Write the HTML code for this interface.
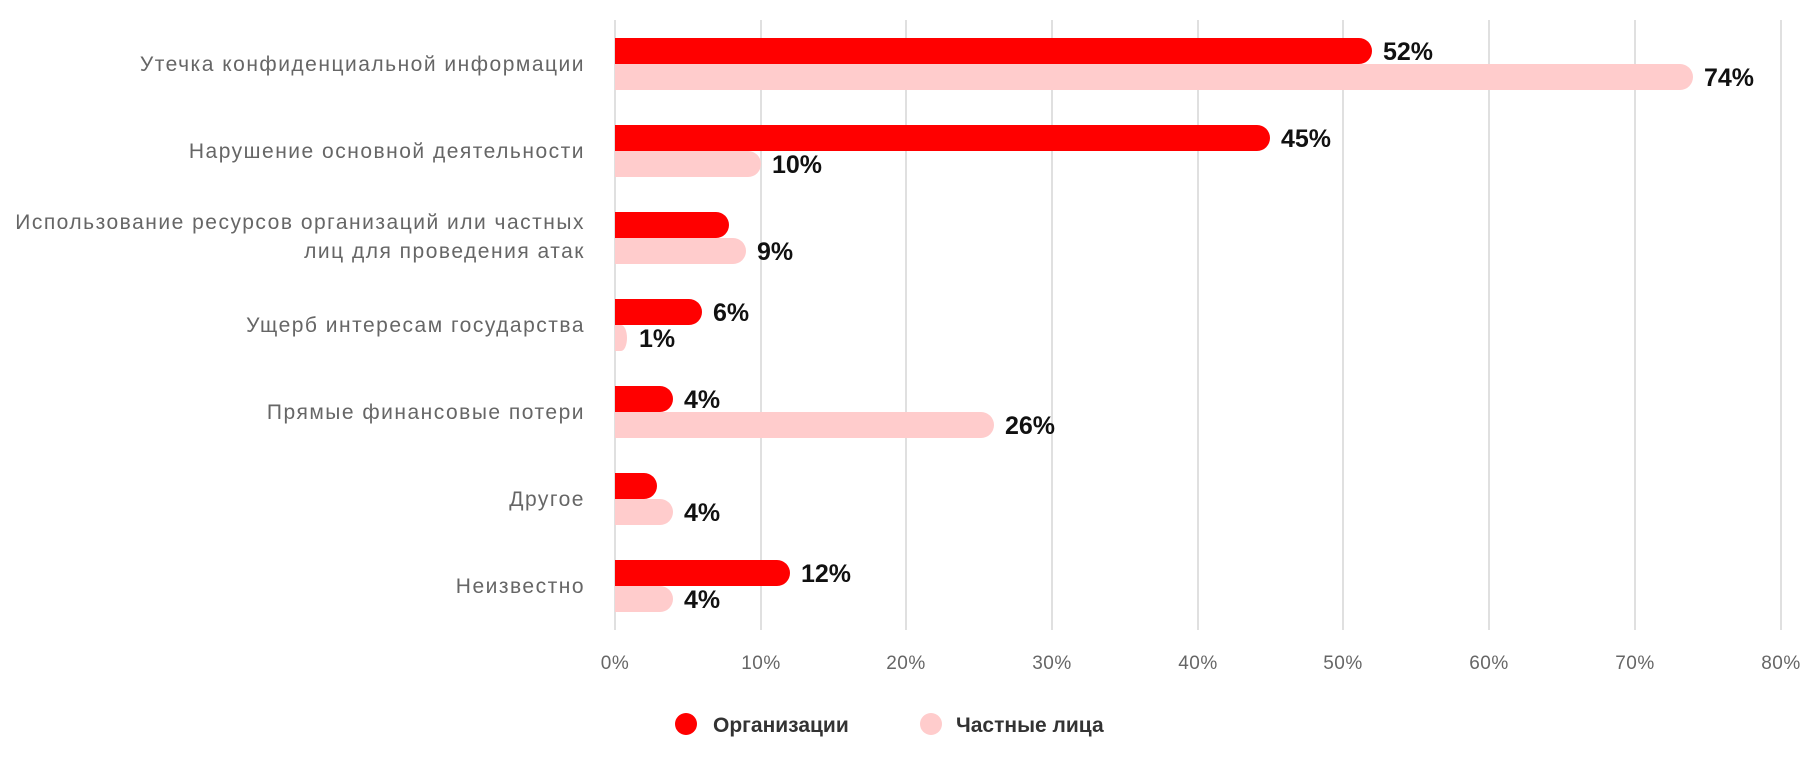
<!DOCTYPE html>
<html><head><meta charset="utf-8"><style>
body{margin:0;background:#fff}
svg text{font-family:"Liberation Sans","DejaVu Sans",sans-serif}
</style></head><body>
<svg width="1800" height="752" xmlns="http://www.w3.org/2000/svg">
<g stroke="#e0e0e0" stroke-width="2">
<line x1="615" y1="20" x2="615" y2="630"/><line x1="761" y1="20" x2="761" y2="630"/>
<line x1="906" y1="20" x2="906" y2="630"/><line x1="1052" y1="20" x2="1052" y2="630"/>
<line x1="1198" y1="20" x2="1198" y2="630"/><line x1="1343" y1="20" x2="1343" y2="630"/>
<line x1="1489" y1="20" x2="1489" y2="630"/><line x1="1635" y1="20" x2="1635" y2="630"/>
<line x1="1781" y1="20" x2="1781" y2="630"/>
</g>
<g font-size="19" fill="#666" text-anchor="middle" letter-spacing="0.5">
<text x="615" y="669">0%</text><text x="761" y="669">10%</text><text x="906" y="669">20%</text>
<text x="1052" y="669">30%</text><text x="1198" y="669">40%</text><text x="1343" y="669">50%</text>
<text x="1489" y="669">60%</text><text x="1635" y="669">70%</text><text x="1781" y="669">80%</text>
</g>
<g font-size="21" fill="#666" text-anchor="end" letter-spacing="1.5">
<text x="585" y="71">Утечка конфиденциальной информации</text>
<text x="585" y="158">Нарушение основной деятельности</text>
<text x="585" y="229">Использование ресурсов организаций или частных</text>
<text x="585" y="258">лиц для проведения атак</text>
<text x="585" y="332">Ущерб интересам государства</text>
<text x="585" y="419">Прямые финансовые потери</text>
<text x="585" y="506">Другое</text>
<text x="585" y="593">Неизвестно</text>
</g>
<g id="bars">
<path d="M615 38H1359a13 13 0 0 1 0 26H615Z" fill="#ff0000"/>
<path d="M615 64H1680a13 13 0 0 1 0 26H615Z" fill="#ffcccc"/>
<path d="M615 125H1257a13 13 0 0 1 0 26H615Z" fill="#ff0000"/>
<path d="M615 151H748a13 13 0 0 1 0 26H615Z" fill="#ffcccc"/>
<path d="M615 212H716a13 13 0 0 1 0 26H615Z" fill="#ff0000"/>
<path d="M615 238H733a13 13 0 0 1 0 26H615Z" fill="#ffcccc"/>
<path d="M615 299H689a13 13 0 0 1 0 26H615Z" fill="#ff0000"/>
<path d="M615 325H621a6 13 0 0 1 0 26H615Z" fill="#ffcccc"/>
<path d="M615 386H660a13 13 0 0 1 0 26H615Z" fill="#ff0000"/>
<path d="M615 412H981a13 13 0 0 1 0 26H615Z" fill="#ffcccc"/>
<path d="M615 473H644a13 13 0 0 1 0 26H615Z" fill="#ff0000"/>
<path d="M615 499H660a13 13 0 0 1 0 26H615Z" fill="#ffcccc"/>
<path d="M615 560H777a13 13 0 0 1 0 26H615Z" fill="#ff0000"/>
<path d="M615 586H660a13 13 0 0 1 0 26H615Z" fill="#ffcccc"/>
</g>
<g font-size="25" font-weight="bold" fill="#111">
<text x="1383" y="60">52%</text>
<text x="1704" y="86">74%</text>
<text x="1281" y="147">45%</text>
<text x="772" y="173">10%</text>
<text x="757" y="260">9%</text>
<text x="713" y="321">6%</text>
<text x="639" y="347">1%</text>
<text x="684" y="408">4%</text>
<text x="1005" y="434">26%</text>
<text x="684" y="521">4%</text>
<text x="801" y="582">12%</text>
<text x="684" y="608">4%</text>
</g>
<circle cx="686" cy="724" r="11" fill="#ff0000"/>
<text x="713" y="732" font-size="21" font-weight="bold" fill="#333">Организации</text>
<circle cx="931" cy="724" r="11" fill="#ffcccc"/>
<text x="956" y="732" font-size="21" font-weight="bold" fill="#333">Частные лица</text>
</svg>
</body></html>
